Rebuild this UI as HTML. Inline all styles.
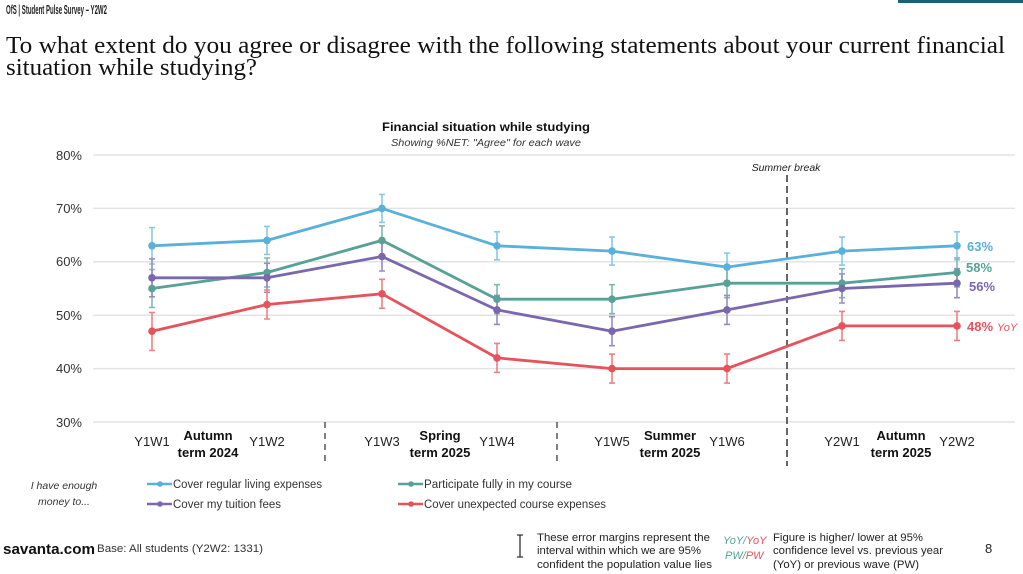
<!DOCTYPE html>
<html><head><meta charset="utf-8"><style>
html,body{margin:0;padding:0;background:#fff;}
svg{display:block;}
text{font-family:"Liberation Sans",sans-serif;}
</style></head><body>
<svg width="1023" height="574" viewBox="0 0 1023 574" xmlns="http://www.w3.org/2000/svg">
<rect x="898" y="0" width="125" height="3" fill="#1f5e7a"/>
<text x="6" y="14" font-size="12.5" font-weight="bold" fill="#222" textLength="101" lengthAdjust="spacingAndGlyphs">OfS | Student Pulse Survey – Y2W2</text>
<text x="6" y="53" style="font-family:'Liberation Serif',serif" font-size="24" fill="#111" textLength="999" lengthAdjust="spacingAndGlyphs">To what extent do you agree or disagree with the following statements about your current financial</text>
<text x="6" y="75" style="font-family:'Liberation Serif',serif" font-size="24" fill="#111" textLength="251" lengthAdjust="spacingAndGlyphs">situation while studying?</text>

<text x="486" y="131" font-size="12" font-weight="bold" fill="#111" text-anchor="middle" textLength="208" lengthAdjust="spacingAndGlyphs">Financial situation while studying</text>
<text x="486" y="146" font-size="10" font-style="italic" fill="#333" text-anchor="middle" textLength="190" lengthAdjust="spacingAndGlyphs">Showing %NET: "Agree" for each wave</text>

<g stroke="#e3e3e3" stroke-width="1.5">
<line x1="93" y1="155" x2="1015" y2="155"/>
<line x1="93" y1="208.4" x2="1015" y2="208.4"/>
<line x1="93" y1="261.8" x2="1015" y2="261.8"/>
<line x1="93" y1="315.2" x2="1015" y2="315.2"/>
<line x1="93" y1="368.6" x2="1015" y2="368.6"/>
<line x1="93" y1="422" x2="1015" y2="422"/>
</g>
<g font-size="13" fill="#333" text-anchor="end">
<text x="82" y="160">80%</text>
<text x="82" y="213">70%</text>
<text x="82" y="266">60%</text>
<text x="82" y="320">50%</text>
<text x="82" y="373">40%</text>
<text x="82" y="427">30%</text>
</g>

<g stroke="#555" stroke-width="1.5" stroke-dasharray="6,5">
<line x1="325" y1="422" x2="325" y2="464"/>
<line x1="557" y1="422" x2="557" y2="464"/>
</g>
<line x1="787" y1="175" x2="787" y2="466" stroke="#555" stroke-width="1.8" stroke-dasharray="7,4"/>
<text x="786" y="171" font-size="10.5" font-style="italic" fill="#222" text-anchor="middle">Summer break</text>

<g font-size="13" fill="#222" text-anchor="middle">
<text x="152" y="446">Y1W1</text>
<text x="267" y="446">Y1W2</text>
<text x="382" y="446">Y1W3</text>
<text x="497" y="446">Y1W4</text>
<text x="612" y="446">Y1W5</text>
<text x="727" y="446">Y1W6</text>
<text x="842" y="446">Y2W1</text>
<text x="957" y="446">Y2W2</text>
</g>
<g font-size="13" font-weight="bold" fill="#111" text-anchor="middle">
<text x="208" y="440">Autumn</text><text x="208" y="457">term 2024</text>
<text x="440" y="440">Spring</text><text x="440" y="457">term 2025</text>
<text x="670" y="440">Summer</text><text x="670" y="457">term 2025</text>
<text x="901" y="440">Autumn</text><text x="901" y="457">term 2025</text>
</g>

<g fill="none" stroke-width="1.6">
<path stroke="#8cc8e6" d="M152 227.6V264M149 227.6h6M149 264h6M267 226.4V254.4M264 226.4h6M264 254.4h6M382 194.4V222.4M379 194.4h6M379 222.4h6M497 231.8V259.8M494 231.8h6M494 259.8h6M612 237.1V265.1M609 237.1h6M609 265.1h6M727 253.1V281.1M724 253.1h6M724 281.1h6M842 237.1V265.1M839 237.1h6M839 265.1h6M957 231.8V259.8M954 231.8h6M954 259.8h6"/>
<path stroke="#7fb8b0" d="M152 269.5V307.5M149 269.5h6M149 307.5h6M267 258V287M264 258h6M264 287h6M382 225.9V254.9M379 225.9h6M379 254.9h6M497 284.7V313.7M494 284.7h6M494 313.7h6M612 284.7V313.7M609 284.7h6M609 313.7h6M727 268.7V297.7M724 268.7h6M724 297.7h6M842 268.7V297.7M839 268.7h6M839 297.7h6M957 258V287M954 258h6M954 287h6"/>
<path stroke="#9a8cc2" d="M152 258.8V296.8M149 258.8h6M149 296.8h6M267 263.3V292.3M264 263.3h6M264 292.3h6M382 242V271M379 242h6M379 271h6M497 295.4V324.4M494 295.4h6M494 324.4h6M612 316.7V345.7M609 316.7h6M609 345.7h6M727 295.4V324.4M724 295.4h6M724 324.4h6M842 274V303M839 274h6M839 303h6M957 268.7V297.7M954 268.7h6M954 297.7h6"/>
<path stroke="#ee8086" d="M152 312.5V350.5M149 312.5h6M149 350.5h6M267 290V319M264 290h6M264 319h6M382 279.3V308.3M379 279.3h6M379 308.3h6M497 343.4V372.4M494 343.4h6M494 372.4h6M612 354.1V383.1M609 354.1h6M609 383.1h6M727 354.1V383.1M724 354.1h6M724 383.1h6M842 311.4V340.4M839 311.4h6M839 340.4h6M957 311.4V340.4M954 311.4h6M954 340.4h6"/>
</g>

<g fill="none" stroke-width="2.8" stroke-linejoin="round">
<polyline stroke="#59b0d9" points="152,245.8 267,240.4 382,208.4 497,245.8 612,251.1 727,267.1 842,251.1 957,245.8"/>
<polyline stroke="#57a197" points="152,288.5 267,272.5 382,240.4 497,299.2 612,299.2 727,283.2 842,283.2 957,272.5"/>
<polyline stroke="#7a67ad" points="152,277.8 267,277.8 382,256.5 497,309.9 612,331.2 727,309.9 842,288.5 957,283.2"/>
<polyline stroke="#e6535c" points="152,331.2 267,304.5 382,293.8 497,357.9 612,368.6 727,368.6 842,325.9 957,325.9"/>
</g>
<g fill="#59b0d9">
<circle cx="152" cy="245.8" r="3.8"/><circle cx="267" cy="240.4" r="3.8"/><circle cx="382" cy="208.4" r="3.8"/><circle cx="497" cy="245.8" r="3.8"/><circle cx="612" cy="251.1" r="3.8"/><circle cx="727" cy="267.1" r="3.8"/><circle cx="842" cy="251.1" r="3.8"/><circle cx="957" cy="245.8" r="3.8"/>
</g>
<g fill="#57a197">
<circle cx="152" cy="288.5" r="3.8"/><circle cx="267" cy="272.5" r="3.8"/><circle cx="382" cy="240.4" r="3.8"/><circle cx="497" cy="299.2" r="3.8"/><circle cx="612" cy="299.2" r="3.8"/><circle cx="727" cy="283.2" r="3.8"/><circle cx="842" cy="283.2" r="3.8"/><circle cx="957" cy="272.5" r="3.8"/>
</g>
<g fill="#7a67ad">
<circle cx="152" cy="277.8" r="3.8"/><circle cx="267" cy="277.8" r="3.8"/><circle cx="382" cy="256.5" r="3.8"/><circle cx="497" cy="309.9" r="3.8"/><circle cx="612" cy="331.2" r="3.8"/><circle cx="727" cy="309.9" r="3.8"/><circle cx="842" cy="288.5" r="3.8"/><circle cx="957" cy="283.2" r="3.8"/>
</g>
<g fill="#e6535c">
<circle cx="152" cy="331.2" r="3.8"/><circle cx="267" cy="304.5" r="3.8"/><circle cx="382" cy="293.8" r="3.8"/><circle cx="497" cy="357.9" r="3.8"/><circle cx="612" cy="368.6" r="3.8"/><circle cx="727" cy="368.6" r="3.8"/><circle cx="842" cy="325.9" r="3.8"/><circle cx="957" cy="325.9" r="3.8"/>
</g>

<g font-size="13" font-weight="bold">
<text x="967" y="251" fill="#59b0d9">63%</text>
<text x="966" y="272" fill="#57a197">58%</text>
<text x="969" y="291" fill="#7a67ad">56%</text>
<text x="967" y="331" fill="#e6535c">48%</text>
</g>
<text x="997" y="331" font-size="11" font-style="italic" fill="#e6535c">YoY</text>

<g font-size="10.5" font-style="italic" fill="#333" text-anchor="middle">
<text x="64" y="489">I have enough</text>
<text x="64" y="505">money to...</text>
</g>
<g stroke-width="2.5">
<line x1="147" y1="484" x2="172" y2="484" stroke="#59b0d9"/>
<line x1="147" y1="504" x2="172" y2="504" stroke="#7a67ad"/>
<line x1="398" y1="484" x2="423" y2="484" stroke="#57a197"/>
<line x1="398" y1="504" x2="423" y2="504" stroke="#e6535c"/>
</g>
<circle cx="160" cy="484" r="2.8" fill="#59b0d9"/>
<circle cx="160" cy="504" r="2.8" fill="#7a67ad"/>
<circle cx="411" cy="484" r="2.8" fill="#57a197"/>
<circle cx="411" cy="504" r="2.8" fill="#e6535c"/>
<g font-size="11.5" fill="#333">
<text x="173" y="488" textLength="149" lengthAdjust="spacingAndGlyphs">Cover regular living expenses</text>
<text x="173" y="508" textLength="108" lengthAdjust="spacingAndGlyphs">Cover my tuition fees</text>
<text x="424" y="488" textLength="148" lengthAdjust="spacingAndGlyphs">Participate fully in my course</text>
<text x="424" y="508" textLength="182" lengthAdjust="spacingAndGlyphs">Cover unexpected course expenses</text>
</g>

<text x="3" y="554" font-size="15" font-weight="bold" fill="#111" textLength="92" lengthAdjust="spacingAndGlyphs">savanta.com</text>
<text x="97" y="552" font-size="11" fill="#333" textLength="166" lengthAdjust="spacingAndGlyphs">Base: All students (Y2W2: 1331)</text>

<path d="M520 535V557M517 535h6M517 557h6" stroke="#333" stroke-width="1.3" fill="none"/>
<g font-size="11" fill="#222">
<text x="537" y="541" textLength="173" lengthAdjust="spacingAndGlyphs">These error margins represent the</text>
<text x="537" y="554" textLength="164" lengthAdjust="spacingAndGlyphs">interval within which we are 95%</text>
<text x="537" y="568" textLength="175" lengthAdjust="spacingAndGlyphs">confident the population value lies</text>
<text x="773" y="541" textLength="150" lengthAdjust="spacingAndGlyphs">Figure is higher/ lower at 95%</text>
<text x="773" y="554" textLength="170" lengthAdjust="spacingAndGlyphs">confidence level vs. previous year</text>
<text x="773" y="568" textLength="146" lengthAdjust="spacingAndGlyphs">(YoY) or previous wave (PW)</text>
</g>
<text x="723" y="544" font-size="11" font-style="italic"><tspan fill="#57a197">YoY/</tspan><tspan fill="#e6535c">YoY</tspan></text>
<text x="725" y="559" font-size="11" font-style="italic"><tspan fill="#57a197">PW/</tspan><tspan fill="#e6535c">PW</tspan></text>
<text x="985" y="553" font-size="13" fill="#222">8</text>
</svg>
</body></html>
